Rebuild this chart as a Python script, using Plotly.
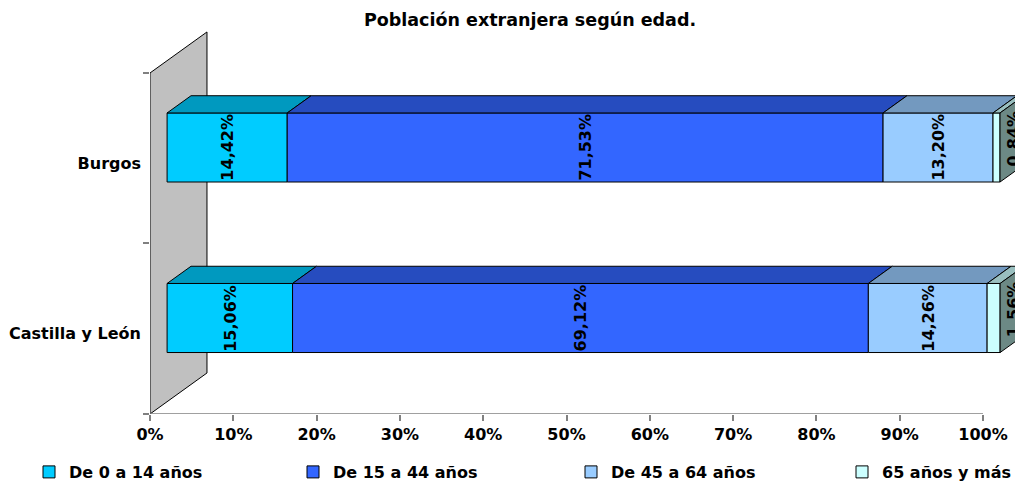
import plotly.graph_objects as go

# data (percent of foreign population by age group)
categories = ["Castilla y León", "Burgos"]
series_names = ["De 0 a 14 años", "De 15 a 44 años", "De 45 a 64 años", "65 años y más"]
castilla = [15.06, 69.12, 14.26, 1.56]
burgos = [14.42, 71.53, 13.20, 0.84]
x_ticks = [0, 10, 20, 30, 40, 50, 60, 70, 80, 90, 100]

values = {"Castilla y León": castilla, "Burgos": burgos}

front_colors = ["#00CCFF", "#3366FF", "#99CCFF", "#CCFFFF"]
top_colors = ["#0099BF", "#264CBF", "#7399BF", "#99BFBF"]
side_color = "#6C8985"

# fake 3D: depth of the back wall in axis units, bars sit between Z0 and Z1
DX, DY = 6.84, 0.2405
Z0, Z1 = 0.30, 0.72
BAR_H = 0.405
FRONT_DY = 0.063          # vertical lift of the bar front face
ddx, ddy = (Z1 - Z0) * DX, (Z1 - Z0) * DY

# page body has an 8px margin, so the figure is sized to end at the window edge
W, H = 1015, 473
FONT = dict(family="DejaVu Sans", size=16, color="black", weight="bold")

fig = go.Figure()

# one legend per series so each entry can sit where the original has it
legend_x = [21, 285, 563, 834]
legend_names = ["legend", "legend2", "legend3", "legend4"]

# front faces (real bars, also give the legend)
for s, name in enumerate(series_names):
    ys, xs, bases = [], [], []
    for i, cat in enumerate(categories):
        vals = values[cat]
        ys.append(i + 0.5 + FRONT_DY)
        xs.append(vals[s])
        bases.append(sum(vals[:s]) + Z0 * DX)
    fig.add_trace(go.Bar(
        y=ys, x=xs, base=bases, orientation="h", width=BAR_H, name=name,
        marker=dict(color=front_colors[s], line=dict(color="black", width=1)),
        legend=legend_names[s], hoverinfo="skip",
    ))

annotations = []
for i, cat in enumerate(categories):
    vals = values[cat]
    yc = i + 0.5 + FRONT_DY
    yt, yb = yc + BAR_H / 2, yc - BAR_H / 2
    for s, v in enumerate(vals):
        x0 = sum(vals[:s]) + Z0 * DX
        x1 = x0 + v
        # top face
        fig.add_trace(go.Scatter(
            x=[x0, x1, x1 + ddx, x0 + ddx, x0],
            y=[yt, yt, yt + ddy, yt + ddy, yt],
            fill="toself", fillcolor=top_colors[s], mode="lines",
            line=dict(color="black", width=1), showlegend=False, hoverinfo="skip",
        ))
        lbl = f"{v:.2f}%".replace(".", ",")
        if s == len(vals) - 1:
            # side face at the end of the bar, label sits on it
            fig.add_trace(go.Scatter(
                x=[x1, x1, x1 + ddx, x1 + ddx, x1],
                y=[yb, yt, yt + ddy, yb + ddy, yb],
                fill="toself", fillcolor=side_color, mode="lines",
                line=dict(color="black", width=1), showlegend=False, hoverinfo="skip",
            ))
            ax, ay = x1 + ddx / 2 + 0.2, yc + ddy / 2
        else:
            ax, ay = (x0 + x1) / 2, yc
        annotations.append(dict(x=ax, y=ay, xref="x", yref="y", text=lbl,
                                textangle=-90, showarrow=False, font=FONT))

shapes = [
    # back wall
    dict(type="path", xref="x", yref="y", layer="below",
         path=f"M 0,0 L 0,2 L {DX},{2 + DY} L {DX},{DY} Z",
         fillcolor="#C0C0C0", line=dict(color="black", width=1)),
    # x axis line
    dict(type="line", xref="x", yref="y", x0=0, x1=100, y0=0, y1=0,
         line=dict(color="#808080", width=1.5)),
]

legends = {}
for k, lx in enumerate(legend_x):
    legends[legend_names[k]] = dict(
        orientation="h", xref="container", yref="container",
        x=lx / W, xanchor="left", y=1 - 464 / H, yanchor="middle",
        font=FONT, bgcolor="rgba(0,0,0,0)",
    )

fig.update_layout(
    width=W, height=H,
    margin=dict(l=142, r=0, t=22, b=67),
    paper_bgcolor="white", plot_bgcolor="white",
    font=FONT,
    barmode="overlay",
    title=dict(text="Población extranjera según edad.", x=522 / W, xref="container",
               y=1 - 12 / H, yanchor="middle", xanchor="center",
               font=dict(FONT, size=17.5)),
    xaxis=dict(range=[0, 104.8], showgrid=False, zeroline=False, showline=False,
               tickmode="array", tickvals=x_ticks, ticktext=[f"{t}%" for t in x_ticks],
               ticks="outside", ticklen=6, tickcolor="#808080", tickwidth=1.5,
               automargin=False, fixedrange=True),
    yaxis=dict(range=[0, 2.252], showgrid=False, zeroline=False, showline=False,
               tickmode="array", tickvals=[0.47, 1.47], ticktext=categories, ticks="",
               ticklabelstandoff=8, automargin=False,
               minor=dict(tickmode="array", tickvals=[0, 1, 2], ticks="outside",
                          ticklen=6, tickcolor="#808080", tickwidth=1.5),
               fixedrange=True),
    shapes=shapes,
    annotations=annotations,
    **legends,
)

fig.write_html("out.html")
